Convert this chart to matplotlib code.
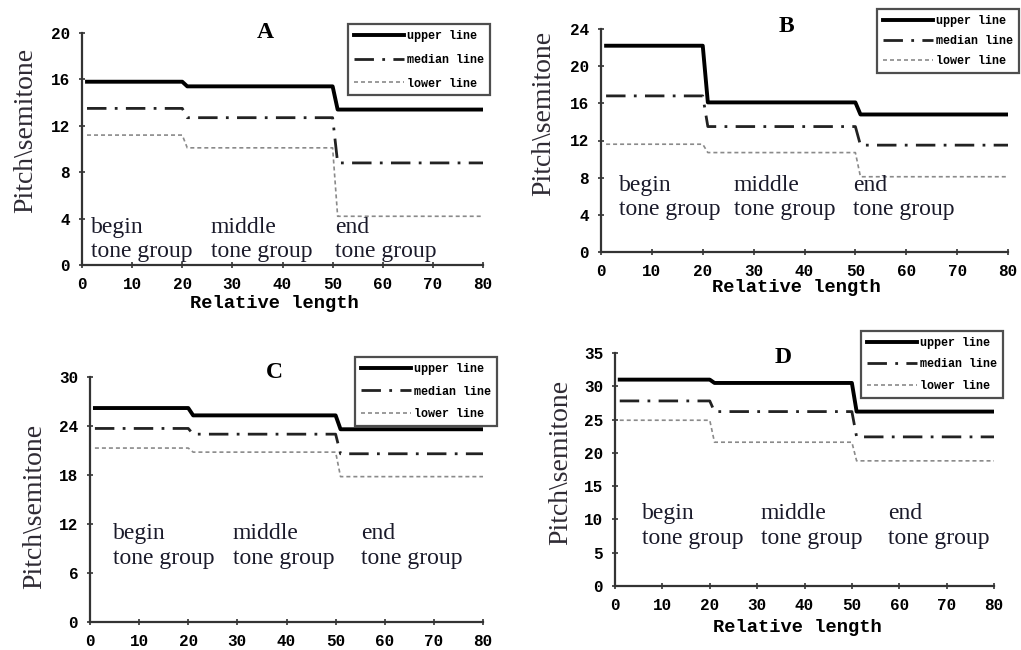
import numpy as np
import matplotlib
matplotlib.use("Agg")
import matplotlib.pyplot as plt

# step positions (relative length) shared by all panels
x_steps = [1, 20, 21, 50, 51, 80]
group_names = ["begin\ntone group", "middle\ntone group", "end\ntone group"]
line_names = ["upper line", "median line", "lower line"]

# level of each line in begin / middle / end group
upper_A = [15.8, 15.4, 13.4]
median_A = [13.5, 12.7, 8.8]
lower_A = [11.2, 10.1, 4.2]

upper_B = [22.2, 16.1, 14.8]
median_B = [16.8, 13.5, 11.5]
lower_B = [11.6, 10.7, 8.1]

upper_C = [26.2, 25.3, 23.6]
median_C = [23.7, 23.0, 20.6]
lower_C = [21.3, 20.8, 17.8]

upper_D = [31.0, 30.5, 26.2]
median_D = [27.8, 26.2, 22.4]
lower_D = [24.9, 21.6, 18.8]

ymax_A, yticks_A = 20, [0, 4, 8, 12, 16, 20]
ymax_B, yticks_B = 24, [0, 4, 8, 12, 16, 20, 24]
ymax_C, yticks_C = 30, [0, 6, 12, 18, 24, 30]
ymax_D, yticks_D = 35, [0, 5, 10, 15, 20, 25, 30, 35]
xticks = [0, 10, 20, 30, 40, 50, 60, 70, 80]

W, H = 1021, 650
fig = plt.figure(figsize=(W / 100, H / 100), dpi=100)
fig.patch.set_facecolor("white")

mono = "Liberation Mono"
serif = "Liberation Serif"
txt_col = "#1a1a2a"


def px_axes(left, right, top, bottom):
    return fig.add_axes([left / W, 1 - bottom / H, (right - left) / W, (bottom - top) / H])


def steps(levels):
    return [levels[0], levels[0], levels[1], levels[1], levels[2], levels[2]]


def panel(box, letter, title_xy, upper, median, lower, ymax, yticks,
          text_pos, leg_box, leg_space, ylab_y, xlabel=True, xlabel_y=-0.17):
    ax = px_axes(*box)
    ax.plot(x_steps, steps(upper), color="black", lw=2.8, label=line_names[0])
    ax.plot(x_steps, steps(median), color="#222222", lw=2.0,
            dashes=(7, 3, 1, 3), label=line_names[1])
    ax.plot(x_steps, steps(lower), color="#8a8a8a", lw=1.2,
            dashes=(2.4, 1.8), label=line_names[2])
    ax.set_xlim(0, 80)
    ax.set_ylim(0, ymax)
    ax.set_xticks(xticks)
    ax.set_yticks(yticks)
    for s in ["top", "right"]:
        ax.spines[s].set_visible(False)
    for s in ["left", "bottom"]:
        ax.spines[s].set_color("#333333")
        ax.spines[s].set_linewidth(1.6)
    ax.tick_params(direction="inout", length=5, width=1.2, color="#333333",
                   labelsize=11.5, pad=6)
    for lab in ax.get_xticklabels() + ax.get_yticklabels():
        lab.set_fontfamily(mono)
        lab.set_fontweight("bold")
    ax.set_ylabel("Pitch\\semitone", fontfamily=serif, fontsize=20,
                  color="#2e2a33")
    ax.yaxis.set_label_coords(-0.11, ylab_y)
    if xlabel:
        ax.text(0.48, xlabel_y, "Relative length", transform=ax.transAxes,
                ha="center", va="center", fontfamily=mono, fontweight="bold",
                fontsize=13.5)
    ax.text(title_xy[0], title_xy[1], letter, transform=ax.transAxes,
            ha="center", va="center", fontfamily=serif, fontweight="bold",
            fontsize=17)
    for name, (tx, ty) in zip(group_names, text_pos):
        ax.text(tx, ty, name, ha="left", va="center", fontfamily=serif,
                fontsize=17, color=txt_col, linespacing=1.2)
    l, r, t, b = leg_box
    leg = ax.legend(loc="upper right", bbox_to_anchor=(r / W, 1 - t / H),
                    bbox_transform=fig.transFigure, frameon=True,
                    fancybox=False, borderaxespad=0, handlelength=4.2,
                    handletextpad=0.3, labelspacing=leg_space, borderpad=0.5,
                    prop={"family": mono, "weight": "bold", "size": 8.5})
    leg.get_frame().set_edgecolor("#222222")
    leg.get_frame().set_linewidth(1.6)
    return ax


panel((82, 483, 33, 265), "A", (0.456, 1.0), upper_A, median_A, lower_A,
      ymax_A, yticks_A, [(1.7, 2.2), (25.7, 2.2), (50.5, 2.2)],
      (347, 490, 24, 90), 1.0, 0.578, xlabel_y=-0.165)
panel((601, 1008, 29, 252), "B", (0.455, 1.01), upper_B, median_B, lower_B,
      ymax_B, yticks_B, [(3.5, 5.9), (26.1, 5.9), (49.5, 5.9)],
      (874, 1019, 9, 63), 0.7, 0.62, xlabel_y=-0.16)
panel((90, 483, 377, 622), "C", (0.47, 1.02), upper_C, median_C, lower_C,
      ymax_C, yticks_C, [(4.6, 9.3), (29.1, 9.3), (55.2, 9.3)],
      (357, 497, 357, 417), 0.9, 0.47, xlabel=False)
panel((615, 994, 353, 586), "D", (0.443, 0.98), upper_D, median_D, lower_D,
      ymax_D, yticks_D, [(5.7, 9.0), (30.8, 9.0), (57.6, 9.0)],
      (868, 1003, 331, 389), 0.8, 0.53, xlabel_y=-0.18)

fig.savefig("out.png", dpi=100, facecolor="white")
